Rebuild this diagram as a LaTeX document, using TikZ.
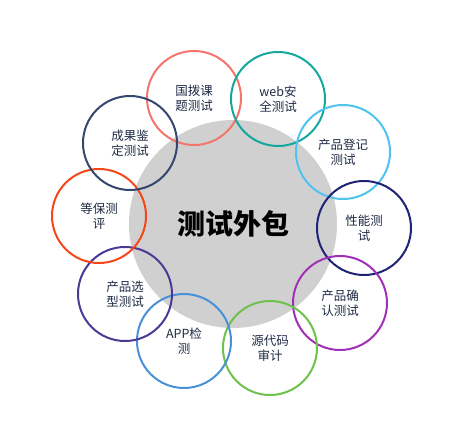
\documentclass[tikz,border=0pt]{standalone}
\usepackage{fontspec}
\setmainfont{Noto Sans CJK SC}
\usepackage{tikz}
\usetikzlibrary{shapes, positioning}
\definecolor{hubgray}{HTML}{D0D0D0}
\definecolor{labelink}{HTML}{1F2A44}
\definecolor{csalmon}{HTML}{F4756B}
\definecolor{cteal}{HTML}{13A89E}
\definecolor{csky}{HTML}{4FC3F0}
\definecolor{cnavy}{HTML}{1E2378}
\definecolor{cviolet}{HTML}{A030B8}
\definecolor{cgreen}{HTML}{6CC24A}
\definecolor{cblue}{HTML}{4A90D9}
\definecolor{cindigo}{HTML}{4B3A94}
\definecolor{corange}{HTML}{F5471A}
\definecolor{cslate}{HTML}{34476E}
\tikzstyle{hub} = [circle, fill=hubgray, inner sep = 0pt, minimum size = 208pt, text=black, font=\fontsize{28}{30}\selectfont\bfseries]
\tikzstyle{ring} = [circle, draw, line width = 2pt, inner sep = 0pt, minimum size = 94pt, align=center, text=labelink, font=\fontsize{12.5}{15}\selectfont]

\begin{document}
\begin{tikzpicture}[x=1pt, y=-1pt]
				\useasboundingbox (0,0) rectangle (461,444);
				\node [hub] (hub) at (233, 224) {测试外包};

				\node [ring, draw=csalmon] (guobo) at (194, 98) {国拨课\\题测试};
				\node [ring, draw=cteal] (web) at (278, 99) {web安\\全测试};
				\node [ring, draw=csky] (dengji) at (343, 152) {产品登记\\测试};
				\node [ring, draw=cnavy] (xingneng) at (364, 228) {性能测\\试};
				\node [ring, draw=cviolet] (queren) at (340, 303) {产品确\\认测试};
				\node [ring, draw=cgreen] (yuandaima) at (270, 348) {源代码\\审计};
				\node [ring, draw=cblue] (app) at (184, 341) {APP检\\测};
				\node [ring, draw=cindigo] (xuanxing) at (125, 294) {产品选\\型测试};
				\node [ring, draw=corange] (dengbao) at (99, 216) {等保测\\评};
				\node [ring, draw=cslate] (jianding) at (130, 143) {成果鉴\\定测试};
			\end{tikzpicture}
\end{document}
